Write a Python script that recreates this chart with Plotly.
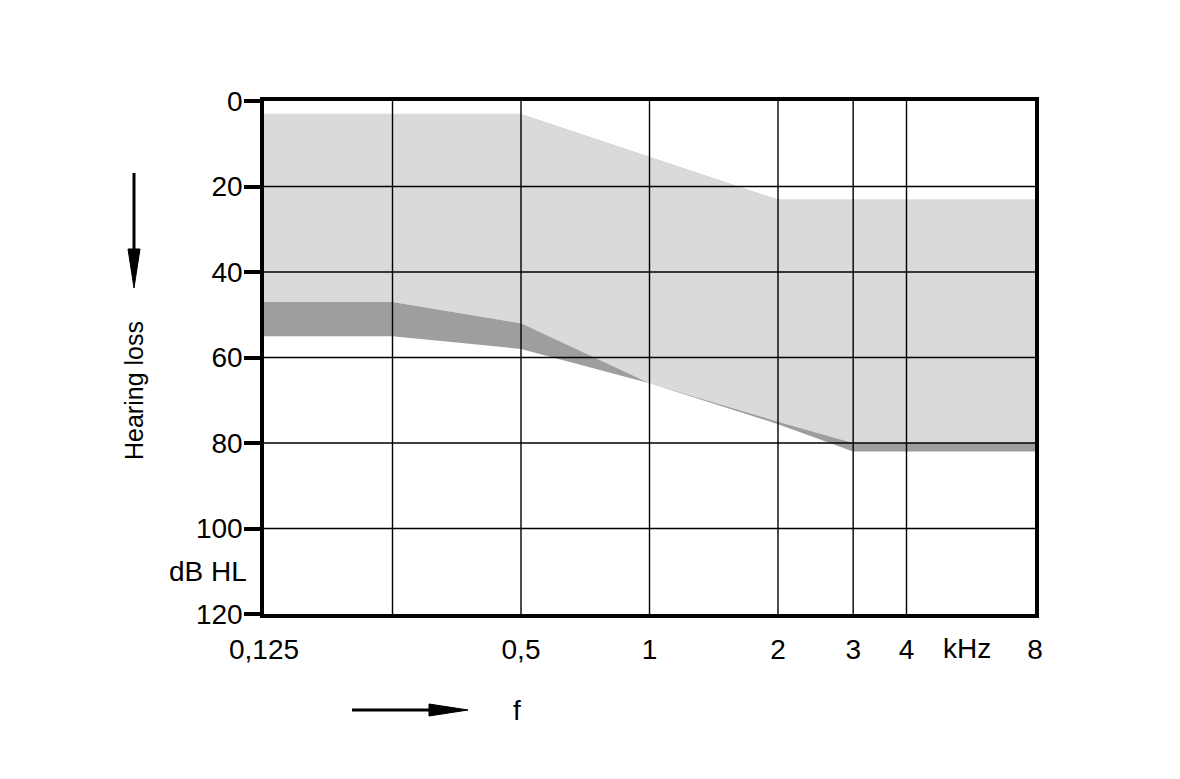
import plotly.graph_objects as go

# ---- data ----
freq_top = [0.125, 0.5, 2, 8]
loss_top = [3, 3, 23, 23]
freq_band = [0.125, 0.25, 0.5, 1, 2, 3, 8]
loss_mid = [47, 47, 52, 66, 75, 80, 80]
loss_low = [55, 55, 58, 66, 75.6, 82, 82]

x_grid = [0.25, 0.5, 1, 2, 3, 4]
x_tickvals = [0.125, 0.5, 1, 2, 3, 4, 8]
x_ticktext = ["0,125", "0,5", "1", "2", "3", "4", "8"]
y_tickvals = [0, 20, 40, 60, 80, 100, 120]
y_grid = [20, 40, 60, 80, 100]

LIGHT = "#dadada"
DARK = "#9e9e9e"
FONT = "Liberation Sans, Arial, sans-serif"
FS = 28

fig = go.Figure()
fig.add_trace(go.Scatter(
    x=freq_top + freq_band[::-1], y=loss_top + loss_mid[::-1],
    fill="toself", fillcolor=LIGHT, line=dict(width=0), mode="lines",
    hoverinfo="skip", showlegend=False))
fig.add_trace(go.Scatter(
    x=freq_band + freq_band[::-1], y=loss_mid + loss_low[::-1],
    fill="toself", fillcolor=DARK, line=dict(width=0), mode="lines",
    hoverinfo="skip", showlegend=False))

shapes = []
for xv in x_grid:
    shapes.append(dict(type="line", xref="x", yref="paper", x0=xv, x1=xv, y0=0, y1=1,
                       line=dict(color="black", width=1.4), layer="above"))
for yv in y_grid:
    shapes.append(dict(type="line", xref="paper", yref="y", x0=0, x1=1, y0=yv, y1=yv,
                       line=dict(color="black", width=1.4), layer="above"))

# arrows (decoration, paper coordinates)
shapes += [
    dict(type="line", xref="paper", yref="paper", x0=-0.16861, x1=-0.16861,
         y0=0.85965, y1=0.70760, line=dict(color="black", width=3)),
    dict(type="path", xref="paper", yref="paper",
         path="M -0.17639 0.71150 L -0.16083 0.71150 L -0.16861 0.63548 Z",
         fillcolor="black", line=dict(color="black", width=1)),
    dict(type="line", xref="paper", yref="paper", x0=0.11414, x1=0.21660,
         y0=-0.18713, y1=-0.18713, line=dict(color="black", width=3)),
    dict(type="path", xref="paper", yref="paper",
         path="M 0.21401 -0.17544 L 0.21401 -0.19883 L 0.26459 -0.18713 Z",
         fillcolor="black", line=dict(color="black", width=1)),
]

W, H = 1164, 763
L, T = 256, 93
PW, PH = 771, 513
fig.update_layout(
    width=W, height=H,
    margin=dict(l=L, r=W - L - PW, t=T, b=H - T - PH, pad=0),
    paper_bgcolor="white", plot_bgcolor="white",
    font=dict(family=FONT, color="black", size=FS),
    shapes=shapes,
    showlegend=False,
)
fig.update_xaxes(
    type="log", range=[-0.90309, 0.90309],
    tickvals=x_tickvals, ticktext=x_ticktext, ticks="",
    showgrid=False, zeroline=False,
    showline=True, linewidth=3.5, linecolor="black", mirror=True,
    layer="above traces", ticklabelstandoff=8,
    tickfont=dict(size=FS, family=FONT),
)
fig.update_yaxes(
    range=[120, 0], tickvals=y_tickvals, ticks="outside", ticklen=16, tickwidth=3.5,
    tickcolor="black", showgrid=False, zeroline=False,
    showline=True, linewidth=3.5, linecolor="black", mirror=True,
    layer="above traces", ticklabelstandoff=-4,
    tickfont=dict(size=FS, family=FONT),
)

annotations = [
    dict(x=-0.1686, y=0.4347, xref="paper", yref="paper", text="Hearing loss",
         textangle=-90, showarrow=False, xanchor="center", yanchor="middle",
         font=dict(size=25, family=FONT)),
    dict(x=0.328, y=-0.189, xref="paper", yref="paper", text="f",
         showarrow=False, xanchor="center", yanchor="middle", font=dict(size=FS, family=FONT)),
    dict(x=-0.0195, y=0.0838, xref="paper", yref="paper", text="dB HL",
         xanchor="right", yanchor="middle", showarrow=False, font=dict(size=FS, family=FONT)),
    dict(x=0.912, y=-0.0663, xref="paper", yref="paper", text="kHz",
         showarrow=False, xanchor="center", yanchor="middle", font=dict(size=FS, family=FONT)),
]
fig.update_layout(annotations=annotations)

fig.write_html("out.html")
